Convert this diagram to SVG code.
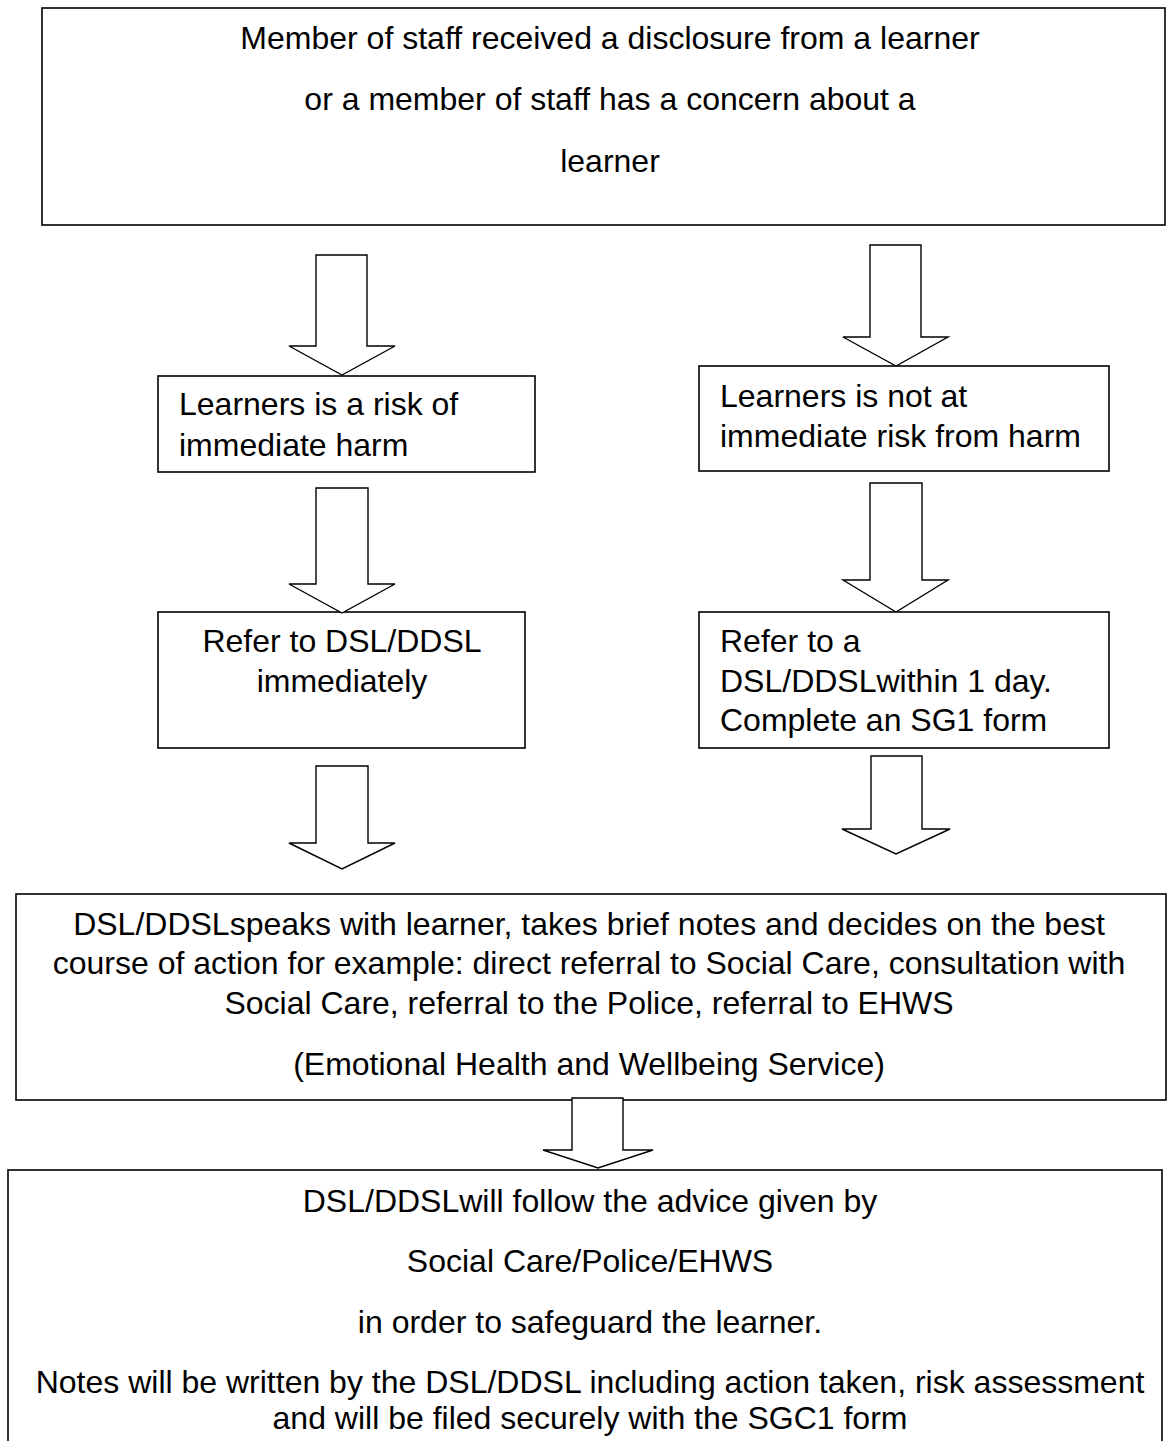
<svg xmlns="http://www.w3.org/2000/svg" width="1171" height="1441" viewBox="0 0 1171 1441">
<style>
.box{fill:#fff;stroke:#000;stroke-width:1.6}
.arr{fill:#fff;stroke:#000;stroke-width:1.4;stroke-linejoin:miter}
text{font-family:"Liberation Sans",Arial,sans-serif;font-size:32px;fill:#000}
.c{text-anchor:middle}
</style>
<rect width="1171" height="1441" fill="#fff"/>
<g id="n-top">
<rect class="box" x="42" y="8" width="1123" height="217"/>
<text class="c" x="610" y="49">Member of staff received a disclosure from a learner</text>
<text class="c" x="610" y="110">or a member of staff has a concern about a</text>
<text class="c" x="610" y="172">learner</text>
</g>
<g id="n-risk">
<rect class="box" x="158" y="376" width="377" height="96"/>
<text x="179" y="415">Learners is a risk of</text>
<text x="179" y="456">immediate harm</text>
</g>
<g id="n-norisk">
<rect class="box" x="699" y="366" width="410" height="105"/>
<text x="720" y="407">Learners is not at</text>
<text x="720" y="447">immediate risk from harm</text>
</g>
<g id="n-refer-now">
<rect class="box" x="158" y="612" width="367" height="136"/>
<text class="c" x="342" y="652">Refer to DSL/DDSL</text>
<text class="c" x="342" y="692">immediately</text>
</g>
<g id="n-refer-day">
<rect class="box" x="699" y="612" width="410" height="136"/>
<text x="720" y="652">Refer to a</text>
<text x="720" y="692">DSL/DDSLwithin 1 day.</text>
<text x="720" y="731">Complete an SG1 form</text>
</g>
<g id="n-speaks">
<rect class="box" x="16" y="894" width="1150" height="206"/>
<text class="c" x="589" y="935">DSL/DDSLspeaks with learner, takes brief notes and decides on the best</text>
<text class="c" x="589" y="974">course of action for example: direct referral to Social Care, consultation with</text>
<text class="c" x="589" y="1014">Social Care, referral to the Police, referral to EHWS</text>
<text class="c" x="589" y="1075">(Emotional Health and Wellbeing Service)</text>
</g>
<g id="n-follow">
<rect class="box" x="8" y="1170" width="1154" height="300"/>
<text class="c" x="590" y="1212">DSL/DDSLwill follow the advice given by</text>
<text class="c" x="590" y="1272">Social Care/Police/EHWS</text>
<text class="c" x="590" y="1333">in order to safeguard the learner.</text>
<text class="c" x="590" y="1393">Notes will be written by the DSL/DDSL including action taken, risk assessment</text>
<text class="c" x="590" y="1429">and will be filed securely with the SGC1 form</text>
</g>
<g id="connectors">
<polygon class="arr" points="316,255 367,255 367,346 395,346 342,375 289,346 316,346"/>
<polygon class="arr" points="870,245 921,245 921,337 948,337 896,366 843,337 870,337"/>
<polygon class="arr" points="316,488 368,488 368,584 395,584 342,613 289,584 316,584"/>
<polygon class="arr" points="870,483 922,483 922,580 948,580 896,612 843,580 870,580"/>
<polygon class="arr" points="316,766 368,766 368,843 395,843 342,869 289,843 316,843"/>
<polygon class="arr" points="871,756 922,756 922,829 950,829 896,854 842,829 871,829"/>
<polygon class="arr" points="572,1098 623,1098 623,1150 653,1150 598,1168 543,1150 572,1150"/>
</g>
</svg>
